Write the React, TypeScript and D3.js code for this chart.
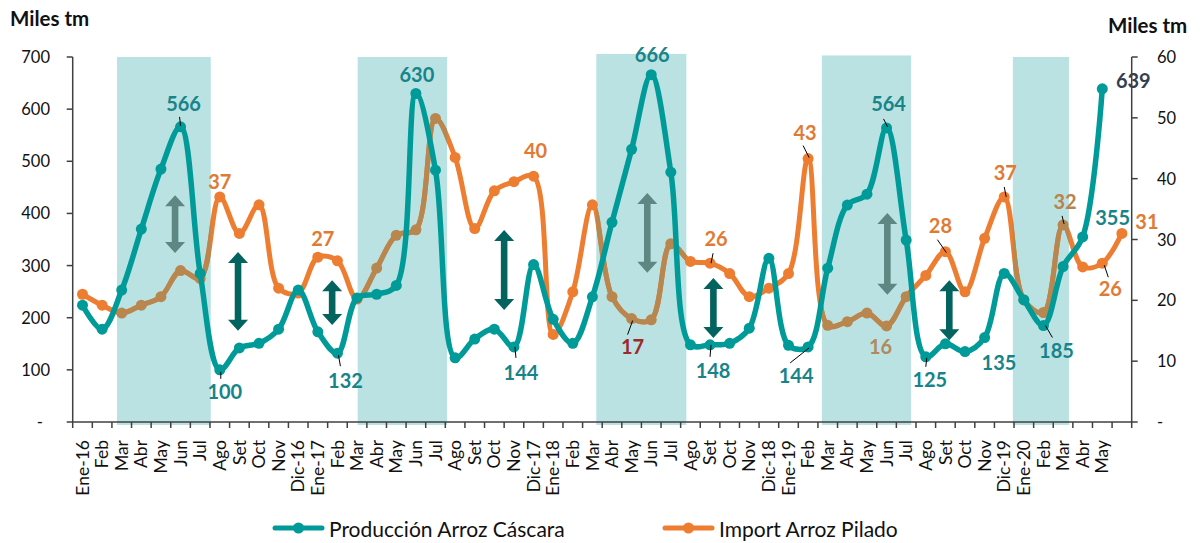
import React from "react";
import * as d3 from "d3";

// meses (la última categoría queda sin rótulo)
const meses = [
  "Ene-16", "Feb", "Mar", "Abr", "May", "Jun", "Jul", "Ago", "Set", "Oct", "Nov", "Dic-16",
  "Ene-17", "Feb", "Mar", "Abr", "May", "Jun", "Jul", "Ago", "Set", "Oct", "Nov", "Dic-17",
  "Ene-18", "Feb", "Mar", "Abr", "May", "Jun", "Jul", "Ago", "Set", "Oct", "Nov", "Dic-18",
  "Ene-19", "Feb", "Mar", "Abr", "May", "Jun", "Jul", "Ago", "Set", "Oct", "Nov", "Dic-19",
  "Ene-20", "Feb", "Mar", "Abr", "May", "",
];

// Producción Arroz Cáscara (miles tm, eje izquierdo)
const produccion: (number | null)[] = [
  224, 178, 253, 370, 485, 566, 285, 100, 142, 151, 178, 253,
  173, 132, 238, 245, 262, 630, 483, 123, 159, 178, 144, 302,
  197, 151, 240, 383, 523, 666, 479, 148, 148, 151, 180, 314,
  147, 144, 295, 416, 437, 564, 349, 125, 150, 135, 162, 285,
  234, 185, 298, 355, 639, null,
];

// Import Arroz Pilado (miles tm, eje derecho)
const importacion: number[] = [
  21.0, 19.2, 17.9, 19.2, 20.6, 24.9, 23.6, 37.0, 31.0, 35.7, 22.0, 21.2,
  27.1, 26.5, 20.2, 25.3, 30.7, 31.6, 49.9, 43.5, 31.8, 38.0, 39.5, 40.4,
  14.4, 21.4, 35.7, 20.6, 17.0, 16.8, 29.3, 26.4, 26.1, 24.4, 20.6, 22.0,
  24.4, 43.3, 15.9, 16.5, 17.9, 15.8, 20.6, 24.1, 28.0, 21.4, 30.2, 37.0,
  20.1, 18.0, 32.4, 25.5, 26.1, 31.0,
];

const ticksIzq = [0, 100, 200, 300, 400, 500, 600, 700];
const ticksDer = [0, 10, 20, 30, 40, 50, 60];

// periodos de cosecha sombreados (en unidades de banda)
const sombras = [
  [2.26, 7.04, 700],
  [14.53, 19.09, 700],
  [26.7, 31.29, 706],
  [38.2, 42.75, 703],
  [47.94, 50.8, 700],
];

// flechas dobles: posición (índice), tope y base en escala izquierda
const flechas = [
  { pos: 4.72, top: 435, base: 324, tipo: "gris" },
  { pos: 7.93, top: 326, base: 175, tipo: "osc" },
  { pos: 12.73, top: 272, base: 186, tipo: "osc" },
  { pos: 21.5, top: 368, base: 215, tipo: "osc" },
  { pos: 28.8, top: 439, base: 286, tipo: "gris" },
  { pos: 32.17, top: 276, base: 161, tipo: "osc" },
  { pos: 41.04, top: 401, base: 244, tipo: "gris" },
  { pos: 44.2, top: 272, base: 157, tipo: "osc" },
];

// etiquetas de datos
const etiquetas = [
  { s: "p", i: 5, dx: 3, dy: -24, ld: [-1, -10, 0, -1] },
  { s: "p", i: 7, dx: 5, dy: 21, ld: [1, 2, 1, 9] },
  { s: "p", i: 13, dx: 8, dy: 27, ld: [1, 2, 3, 13] },
  { s: "p", i: 17, dx: 1, dy: -20 },
  { s: "p", i: 22, dx: 7, dy: 25, ld: [1, 0, 2, 11] },
  { s: "p", i: 29, dx: 1, dy: -21 },
  { s: "p", i: 32, dx: 3, dy: 25, ld: [1, 0, 0, 12] },
  { s: "p", i: 37, dx: -12, dy: 28, ld: [1, 1, -18, 16] },
  { s: "p", i: 41, dx: 2, dy: -25, ld: [-3, -9, 1, -1] },
  { s: "p", i: 43, dx: 4, dy: 22, ld: [1, 1, 0, 10] },
  { s: "p", i: 45, dx: 34, dy: 10 },
  { s: "p", i: 49, dx: 13, dy: 24, ld: [2, 0, 9, 12] },
  { s: "p", i: 51, dx: 30, dy: -20 },
  { s: "p", i: 52, dx: 31, dy: -9, color: "#333F50" },
  { s: "m", i: 7, dx: 0, dy: -16 },
  { s: "m", i: 12, dx: 5, dy: -19 },
  { s: "m", i: 23, dx: 2, dy: -26 },
  { s: "m", i: 28, dx: 1, dy: 27, ld: [1, 2, -4, 16], color: "#9C2A2D" },
  { s: "m", i: 32, dx: 6, dy: -25, ld: [3, -10, 1, 0] },
  { s: "m", i: 37, dx: -3, dy: -27, ld: [-5, -13, 1, -1] },
  { s: "m", i: 41, dx: -6, dy: 20, color: "#B08A5A" },
  { s: "m", i: 44, dx: -5, dy: -27, ld: [-8, -12, 1, 1] },
  { s: "m", i: 47, dx: 1, dy: -25, ld: [0, -10, 2, 0] },
  { s: "m", i: 50, dx: 2, dy: -24, ld: [-1, -9, 1, -1], color: "#B9834E" },
  { s: "m", i: 52, dx: 8, dy: 25, ld: [2, 2, 6, 14] },
  { s: "m", i: 53, dx: 25, dy: -12 },
];

const W = 1200;
const H = 543;
const FONT = "Lato, Carlito, Calibri, sans-serif";
const TEAL = "#009B98";
const NARANJA = "#ED7D31";
const CAFE = "#B8864F";
const SOMBRA = "#BAE2E2";

export default function App() {
  const x0 = 72.7;
  const x1 = 1131.7;
  const yTop = 57;
  const yBot = 422;

  const xBand = d3
    .scaleBand<number>()
    .domain(d3.range(meses.length))
    .range([x0, x1])
    .padding(0);
  const step = xBand.step();
  const cx = (i: number) => (xBand(i) as number) + step / 2;
  const ux = (u: number) => x0 + u * step;
  const yL = d3.scaleLinear().domain([0, 700]).range([yBot, yTop]);
  const yR = d3.scaleLinear().domain([0, 60]).range([yBot, yTop]);

  const curva = d3.curveCatmullRom.alpha(0.5);
  const lineaProd = d3
    .line<number | null>()
    .defined((d) => d !== null)
    .x((_, i) => cx(i))
    .y((d) => yL(d as number))
    .curve(curva);
  const lineaImp = d3
    .line<number>()
    .x((_, i) => cx(i))
    .y((d) => yR(d))
    .curve(curva);

  const enSombra = (x: number) =>
    sombras.some(([a, b]) => x >= ux(a) && x <= ux(b));

  const flecha = (x: number, yt: number, yb: number) => {
    const s = 3.3;
    const hw = 10;
    const hl = 11;
    return `M${x},${yt}L${x + hw},${yt + hl}L${x + s},${yt + hl}L${x + s},${yb - hl}L${x + hw},${yb - hl}L${x},${yb}L${x - hw},${yb - hl}L${x - s},${yb - hl}L${x - s},${yt + hl}L${x - hw},${yt + hl}Z`;
  };

  return (
    <svg
      width={W}
      height={H}
      style={{ position: "absolute", left: 0, top: 0, background: "#fff" }}
      fontFamily={FONT}
    >
      <defs>
        <clipPath id="clipSombra">
          {sombras.map(([a, b, t], k) => (
            <rect key={k} x={ux(a)} y={yL(t)} width={ux(b) - ux(a)} height={yBot + 3 - yL(t)} />
          ))}
        </clipPath>
      </defs>

      {/* sombreado */}
      {sombras.map(([a, b, t], k) => (
        <rect key={k} x={ux(a)} y={yL(t)} width={ux(b) - ux(a)} height={yBot + 3 - yL(t)} fill={SOMBRA} />
      ))}

      {/* importación */}
      <path d={lineaImp(importacion) || ""} fill="none" stroke={NARANJA} strokeWidth={5} />
      <path d={lineaImp(importacion) || ""} fill="none" stroke={CAFE} strokeWidth={5} clipPath="url(#clipSombra)" />
      {importacion.map((v, i) => (
        <circle key={i} cx={cx(i)} cy={yR(v)} r={5.5} fill={enSombra(cx(i)) ? CAFE : NARANJA} />
      ))}

      {/* producción */}
      <path d={lineaProd(produccion) || ""} fill="none" stroke={TEAL} strokeWidth={5.5} />
      {produccion.map((v, i) =>
        v === null ? null : <circle key={i} cx={cx(i)} cy={yL(v)} r={5.5} fill={TEAL} />
      )}

      {/* flechas */}
      {flechas.map((f, k) => (
        <path
          key={k}
          d={flecha(cx(0) + f.pos * step, yL(f.top), yL(f.base))}
          fill={f.tipo === "gris" ? "#5E8784" : "#03635F"}
        />
      ))}

      {/* etiquetas */}
      {etiquetas.map((e, k) => {
        const v = e.s === "p" ? (produccion[e.i] as number) : importacion[e.i];
        const px = cx(e.i);
        const py = e.s === "p" ? yL(v) : yR(v);
        const col = e.color || (e.s === "p" ? "#17848A" : "#E07B34");
        return (
          <g key={k}>
            {e.ld && (
              <line
                x1={px + e.ld[0]}
                y1={py + e.ld[1]}
                x2={px + e.ld[2]}
                y2={py + e.ld[3]}
                stroke="#000"
                strokeWidth={1}
              />
            )}
            <text
              x={px + e.dx}
              y={py + e.dy}
              textAnchor="middle"
              dominantBaseline="central"
              fontWeight="bold"
              fontSize={20}
              fill={col}
            >
              {Math.round(v)}
            </text>
          </g>
        );
      })}

      {/* eje izquierdo */}
      <line x1={x0} x2={x0} y1={yTop} y2={yBot} stroke="#404040" strokeWidth={1.5} />
      {ticksIzq.map((t) => (
        <g key={t}>
          <line x1={x0 - 6} x2={x0} y1={yL(t)} y2={yL(t)} stroke="#404040" strokeWidth={1.5} />
          <text
            x={t === 0 ? 43 : 50}
            y={yL(t)}
            textAnchor="end"
            dominantBaseline="central"
            fontSize={16.5}
            fill="#111"
          >
            {t === 0 ? "-" : t}
          </text>
        </g>
      ))}
      <text x={10} y={26} fontWeight="bold" fontSize={20.5} fill="#111">
        Miles tm
      </text>

      {/* eje derecho */}
      <line x1={x1} x2={x1} y1={yTop} y2={yBot} stroke="#404040" strokeWidth={1.5} />
      {ticksDer.map((t) => (
        <g key={t}>
          <line x1={x1} x2={x1 + 6} y1={yR(t)} y2={yR(t)} stroke="#404040" strokeWidth={1.5} />
          <text x={1157} y={yR(t)} dominantBaseline="central" fontSize={16.5} fill="#111">
            {t === 0 ? "-" : t}
          </text>
        </g>
      ))}
      <text x={1108} y={33} fontWeight="bold" fontSize={20.5} fill="#111">
        Miles tm
      </text>

      {/* eje x */}
      <line x1={x0} x2={x1} y1={yBot} y2={yBot} stroke="#404040" strokeWidth={1.5} />
      {d3.range(meses.length + 1).map((i) => (
        <line key={i} x1={x0 + i * step} x2={x0 + i * step} y1={yBot} y2={yBot + 6} stroke="#404040" strokeWidth={1.5} />
      ))}
      {meses.map((m, i) => (
        <text
          key={i}
          transform={`translate(${cx(i)},440) rotate(-90)`}
          textAnchor="end"
          dy="0.35em"
          fontSize={17.5}
          fill="#111"
        >
          {m}
        </text>
      ))}

      {/* leyenda */}
      <line x1={275} x2={322} y1={528} y2={528} stroke={TEAL} strokeWidth={5} strokeLinecap="round" />
      <circle cx={298.5} cy={528} r={5.5} fill={TEAL} />
      <text x={329} y={528} dominantBaseline="central" fontSize={21} fill="#111">
        Producción Arroz Cáscara
      </text>
      <line x1={665} x2={712} y1={528} y2={528} stroke={NARANJA} strokeWidth={5} strokeLinecap="round" />
      <circle cx={688.5} cy={528} r={5.5} fill={NARANJA} />
      <text x={719} y={528} dominantBaseline="central" fontSize={21} fill="#111">
        Import Arroz Pilado
      </text>
    </svg>
  );
}
